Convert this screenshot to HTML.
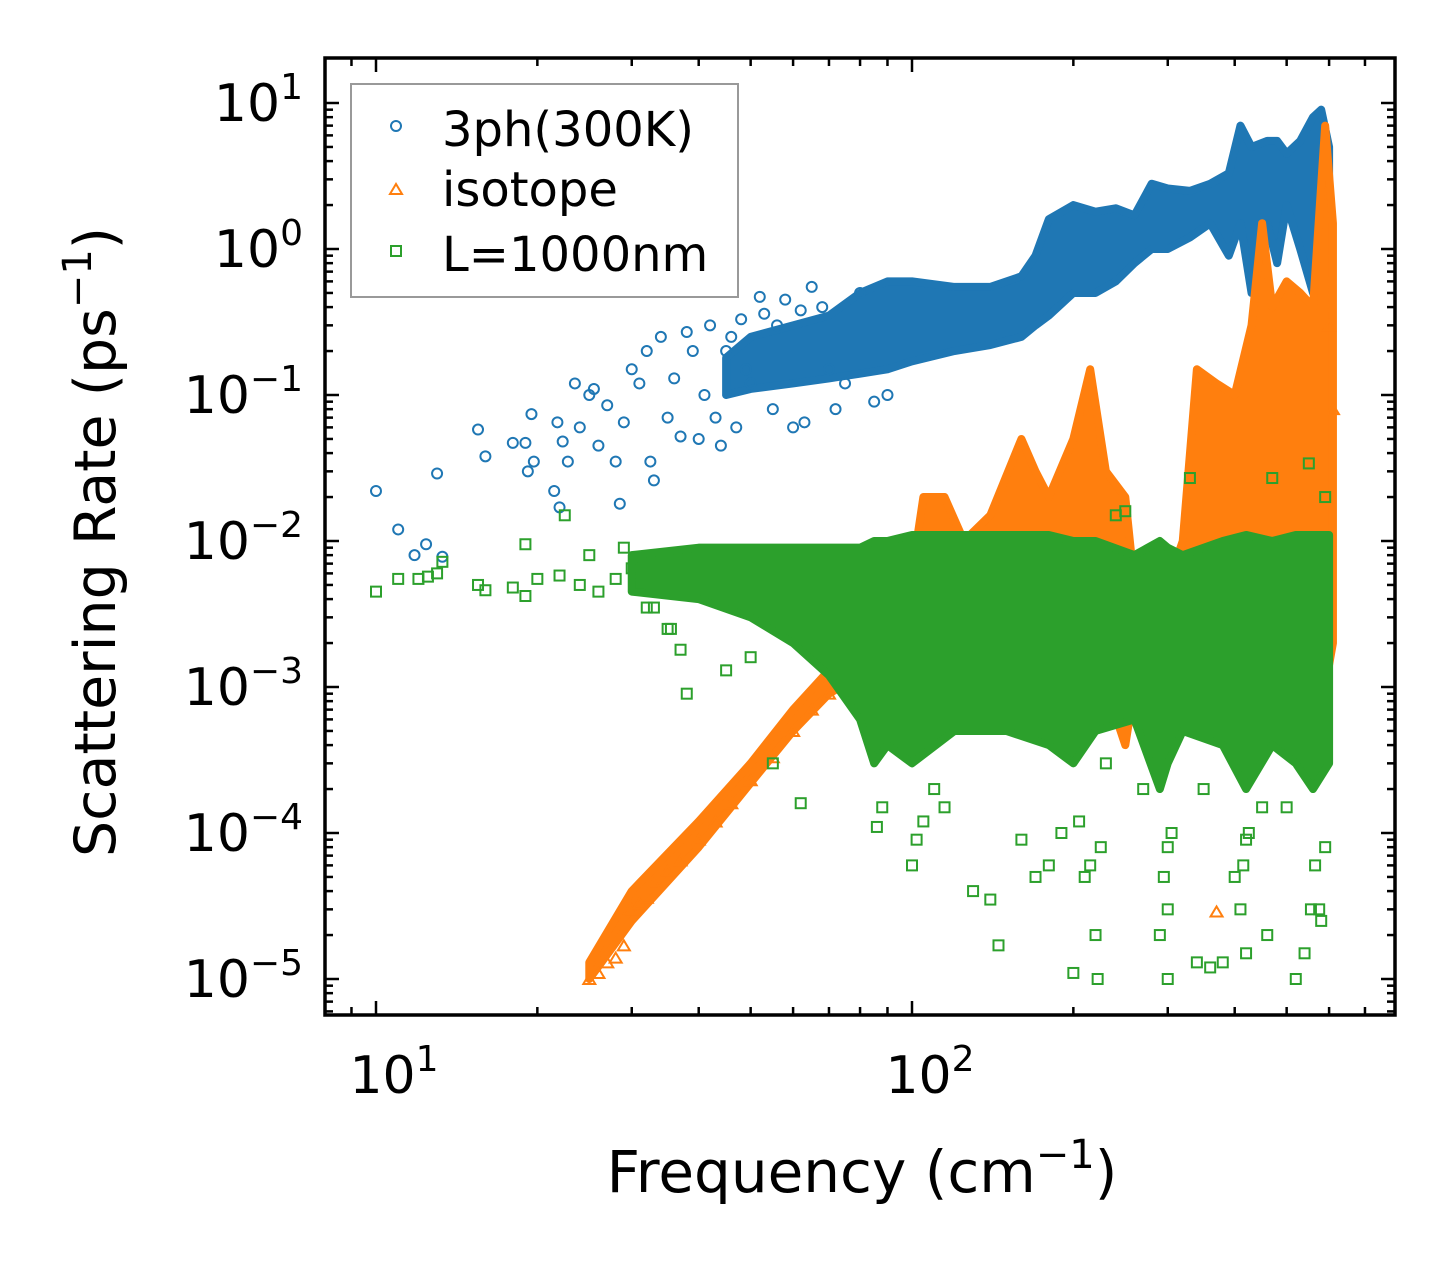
<!DOCTYPE html>
<html><head><meta charset="utf-8"><style>
body{margin:0;background:#fff;}
svg{display:block;font-family:"DejaVu Sans","Liberation Sans",sans-serif;}
</style></head><body>
<svg id="chart" width="1455" height="1265" viewBox="0 0 1455 1265" xmlns="http://www.w3.org/2000/svg">
<rect width="1455" height="1265" fill="#fff"/>
<defs><clipPath id="clip"><rect x="325" y="58" width="1070" height="957"/></clipPath></defs>
<g id="plot" clip-path="url(#clip)"></g>
<g id="axes"></g>
<rect x="325" y="58" width="1070" height="957" fill="none" stroke="#000" stroke-width="3.5"/>
<text x="862" y="1192" font-size="58" text-anchor="middle">Frequency (cm<tspan dy="-24" font-size="40">−1</tspan><tspan dy="24">)</tspan></text>
<text transform="translate(115,542) rotate(-90)" font-size="57" text-anchor="middle">Scattering Rate (ps<tspan dy="-24" font-size="40">−1</tspan><tspan dy="24">)</tspan></text>
<g>
<rect x="351" y="84" width="387" height="213" fill="#fff" fill-opacity="0.8" stroke="#999" stroke-width="2"/>
<circle cx="396" cy="126" r="5" fill="none" stroke="#1f77b4" stroke-width="2"/>
<text x="442" y="146" font-size="48">3ph(300K)</text>
<path d="M390,194 L396,184 L402,194 Z" fill="none" stroke="#ff7f0e" stroke-width="2"/>
<text x="442" y="206" font-size="48">isotope</text>
<rect x="391" y="246" width="10" height="10" fill="none" stroke="#2ca02c" stroke-width="2"/>
<text x="442" y="271" font-size="48">L=1000nm</text>
</g>
</svg>
<script>
const xTickExps=[1,2];
const yTickExps=[1,0,-1,-2,-3,-4,-5];
// blue: scattered points [freq, rate]
const blueFreq=[10,11,11.8,12.4,13,13.3,15.5,16,18,19,19.2,19.5,19.7,21.5,21.8,22,22.3,22.8,23.5,24,25,25.5,26,27,28,28.5,29,30,31,32,32.5,33,34,35,36,37,38,39,40,41,42,44,45,48,50,52,55,58,60,62,65,70,75,80,43,46,47,49,53,56,63,68,72,85,90];
const blueRate=[0.022,0.012,0.008,0.0095,0.029,0.0078,0.058,0.038,0.047,0.047,0.03,0.074,0.035,0.022,0.065,0.017,0.048,0.035,0.12,0.06,0.1,0.11,0.045,0.085,0.035,0.018,0.065,0.15,0.12,0.2,0.035,0.026,0.25,0.07,0.13,0.052,0.27,0.2,0.05,0.1,0.3,0.045,0.2,0.33,0.12,0.47,0.08,0.45,0.06,0.38,0.55,0.15,0.12,0.5,0.07,0.25,0.06,0.15,0.36,0.3,0.065,0.4,0.08,0.09,0.1];
// blue dense band
const blueBandFreq=[45,50,60,70,80,90,100,120,140,160,170,180,200,220,240,260,280,300,330,360,390,410,430,460,480,500,530,560,580,600];
const blueBandLow=[0.1,0.11,0.12,0.13,0.14,0.15,0.17,0.2,0.22,0.25,0.3,0.35,0.5,0.5,0.6,0.8,1.0,1.0,1.2,1.5,0.9,1.5,0.5,1.5,0.8,2,1,0.5,2,2];
const blueBandHigh=[0.18,0.25,0.3,0.35,0.5,0.6,0.6,0.55,0.55,0.65,0.9,1.6,2.0,1.8,1.9,1.7,2.8,2.6,2.5,2.8,3.3,7,5,5.5,5.5,4.5,5.5,8,9,5];
// orange dense band
const orangeBandFreq=[25,30,40,50,60,70,80,85,90,100,105,115,125,140,160,170,180,200,215,230,250,260,300,320,340,370,400,430,450,470,500,530,560,590,610];
const orangeBandLow=[1e-5,2.5e-5,8e-5,2.2e-4,5e-4,9e-4,1.2e-3,1.5e-3,1e-3,1e-3,2e-3,3e-3,3e-3,3e-3,2e-3,2e-3,1e-3,1e-3,1e-3,1e-3,4e-4,1e-3,1e-3,1e-3,1e-3,1e-3,1e-3,1e-3,1e-3,1e-3,1e-3,1e-3,1e-3,1e-3,2e-3];
const orangeBandHigh=[1.3e-5,4e-5,1.2e-4,3e-4,7e-4,1.3e-3,2e-3,8e-3,4e-3,6e-3,0.02,0.02,0.01,0.015,0.05,0.03,0.02,0.05,0.15,0.03,0.02,0.005,0.005,0.01,0.15,0.12,0.1,0.3,1.5,0.4,0.6,0.5,0.4,7,1.5];
const orangeFreq=[25,26,27,28,29,30,31,32,33,35,37,40,43,46,50,55,60,65,70,75,80,370,610,600];
const orangeRate=[1e-5,1.1e-5,1.3e-5,1.4e-5,1.7e-5,3e-5,3.3e-5,3.6e-5,4.5e-5,5.5e-5,6.5e-5,9e-5,1.2e-4,1.6e-4,2.3e-4,3.3e-4,5e-4,7e-4,9e-4,1.2e-3,1.6e-3,2.9e-5,8e-2,3e-1];
// green scattered points
const greenFreq=[10,11,12,12.5,13,13.3,15.5,16,18,19,19,20,22,22.5,24,25,26,28,29,30,31,32,33,35,35.5,37,38,40,45,50,55,62,130,140,145,160,170,180,200,210,220,222,300,300,340,360,380,400,420,460,520,575,250,240,330,470,550,590,86,88,100,102,105,110,115,190,205,215,225,290,295,300,305,410,415,420,425,540,555,565,580,590,230,270,350,450,500];
const greenRate=[0.0045,0.0055,0.0055,0.0057,0.006,0.0072,0.005,0.0046,0.0048,0.0042,0.0095,0.0055,0.0058,0.015,0.005,0.008,0.0045,0.0055,0.009,0.0065,0.005,0.0035,0.0035,0.0025,0.0025,0.0018,0.0009,0.0065,0.0013,0.0016,0.0003,0.00016,4e-5,3.5e-5,1.7e-5,9e-5,5e-5,6e-5,1.1e-5,5e-5,2e-5,1e-5,1e-5,3e-5,1.3e-5,1.2e-5,1.3e-5,5e-5,1.5e-5,2e-5,1e-5,3e-5,0.016,0.015,0.027,0.027,0.034,0.02,1.1e-4,1.5e-4,6e-5,9e-5,1.2e-4,2e-4,1.5e-4,1e-4,1.2e-4,6e-5,8e-5,2e-5,5e-5,8e-5,1e-4,3e-5,6e-5,9e-5,1e-4,1.5e-5,3e-5,6e-5,2.5e-5,8e-5,3e-4,2e-4,2e-4,1.5e-4,1.5e-4];
const greenBandFreq=[30,40,50,60,70,80,85,90,100,120,150,180,200,220,260,290,300,320,380,420,470,520,560,600];
const greenBandLow=[0.0045,0.004,0.003,0.002,0.0012,0.0006,0.0003,0.0004,0.0003,0.0005,0.0005,0.0004,0.0003,0.0005,0.0006,0.0002,0.0003,0.0005,0.0004,0.0002,0.0004,0.0003,0.0002,0.0003];
const greenBandHigh=[0.008,0.009,0.009,0.009,0.009,0.009,0.01,0.01,0.011,0.011,0.011,0.011,0.01,0.01,0.008,0.01,0.009,0.008,0.01,0.011,0.01,0.011,0.011,0.011];

const X0=376,XD=536,Y0=103,YD=146;
const xs=f=>X0+(Math.log10(f)-1)*XD;
const ys=r=>Y0+(1-Math.log10(r))*YD;
const NS='http://www.w3.org/2000/svg';
const plot=document.getElementById('plot'),axes=document.getElementById('axes');
function mk(tag,parent){const e=document.createElementNS(NS,tag);parent.appendChild(e);return e;}
function band(F,L,H,col,name){
  let d='M'+F.map((f,i)=>xs(f)+','+ys(H[i])).join(' L');
  for(let i=F.length-1;i>=0;i--)d+=' L'+xs(F[i])+','+ys(L[i]);
  const p=mk('path',plot);p.setAttribute('d',d+'Z');p.setAttribute('fill',col);p.setAttribute('stroke',col);p.setAttribute('stroke-width','8');p.setAttribute('stroke-linejoin','round');
  
  
}
function pts(F,R,col,shape,name){
  const g=mk('g',plot);
  
  
  F.forEach((f,i)=>{const x=xs(f),y=ys(R[i]);let e;
    if(shape==='c'){e=mk('circle',g);e.setAttribute('cx',x);e.setAttribute('cy',y);e.setAttribute('r',5);}
    else if(shape==='s'){e=mk('rect',g);e.setAttribute('x',x-5);e.setAttribute('y',y-5);e.setAttribute('width',10);e.setAttribute('height',10);}
    else{e=mk('path',g);e.setAttribute('d',`M${x-6},${y+5} L${x},${y-5} L${x+6},${y+5} Z`);}
    e.setAttribute('fill','none');e.setAttribute('stroke',col);e.setAttribute('stroke-width','2');});
}
band(blueBandFreq,blueBandLow,blueBandHigh,'#1f77b4','series-3ph-band');
pts(blueFreq,blueRate,'#1f77b4','c','series-3ph-points');
band(orangeBandFreq,orangeBandLow,orangeBandHigh,'#ff7f0e','series-isotope-band');
pts(orangeFreq,orangeRate,'#ff7f0e','t','series-isotope-points');
band(greenBandFreq,greenBandLow,greenBandHigh,'#2ca02c','series-boundary-band');
pts(greenFreq,greenRate,'#2ca02c','s','series-boundary-points');

function line(x1,y1,x2,y2){const l=mk('line',axes);l.setAttribute('x1',x1);l.setAttribute('y1',y1);l.setAttribute('x2',x2);l.setAttribute('y2',y2);l.setAttribute('stroke','#000');l.setAttribute('stroke-width','2.5');}
function label(x,y,exp,anchor,name){const t=mk('text',axes);t.setAttribute('x',x);t.setAttribute('y',y);t.setAttribute('font-size','52');t.setAttribute('text-anchor',anchor);
  
  
  t.innerHTML='10<tspan dy="-22" font-size="36">'+(exp<0?'−'+(-exp):exp)+'</tspan>';}
// x ticks
for(let d=0;d<=2;d++)for(let m=1;m<10;m++){const f=m*Math.pow(10,d);const x=xs(f);if(x<327||x>1393)continue;const L=m===1?14:8;line(x,1015,x,1015-L);line(x,58,x,58+L);}
xTickExps.forEach(e=>label(xs(Math.pow(10,e))+18,1093,e,'middle','x-tick-label-'+e));
// y ticks
for(let d=-6;d<=1;d++)for(let m=1;m<10;m++){const r=m*Math.pow(10,d);const y=ys(r);if(y<60||y>1013)continue;const L=m===1?14:8;line(325,y,325+L,y);line(1395,y,1395-L,y);}
yTickExps.forEach(e=>label(303,ys(Math.pow(10,e))+18,e,'end','y-tick-label-'+e));
</script>
</body></html>
